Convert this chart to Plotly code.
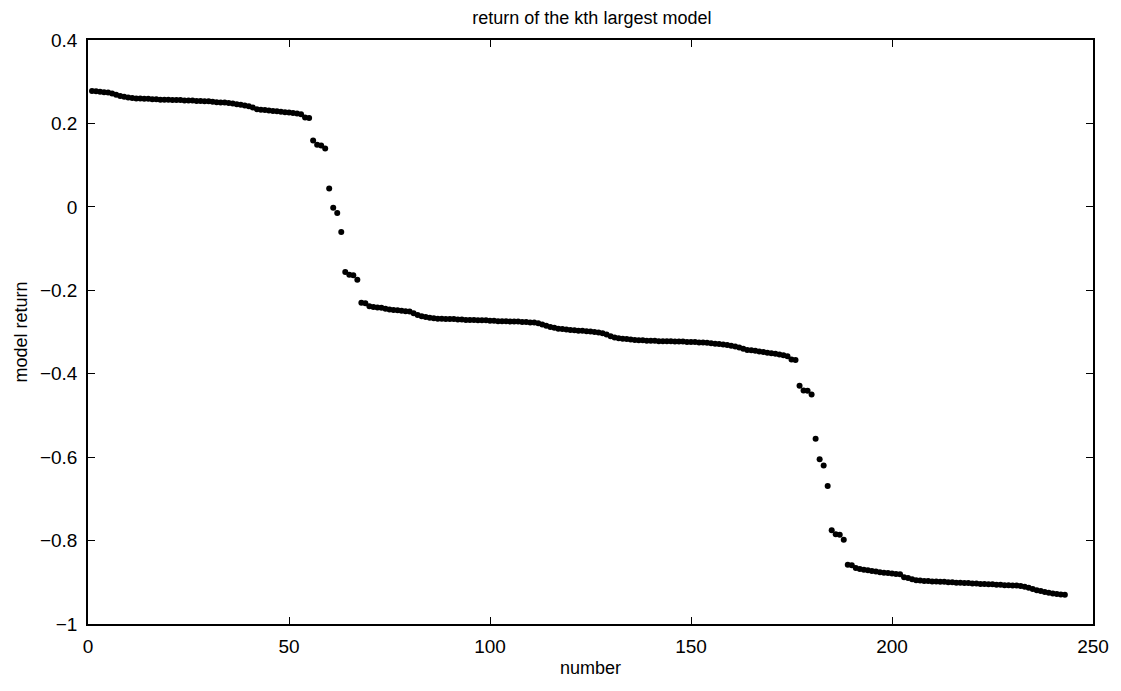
import plotly.graph_objects as go

title_text = "return of the kth largest model"
x_label = "number"
y_label = "model return"

returns_top = [
    0.278, 0.277, 0.276, 0.275, 0.274, 0.272, 0.269, 0.266, 0.264, 0.262,
    0.261, 0.260, 0.260, 0.259, 0.259, 0.258, 0.258, 0.257, 0.257, 0.257,
    0.256, 0.256, 0.256, 0.255, 0.255, 0.255, 0.254, 0.254, 0.253, 0.253,
    0.252, 0.251, 0.250, 0.250, 0.249, 0.248, 0.246, 0.245, 0.243, 0.241,
    0.238, 0.234, 0.233, 0.232, 0.231, 0.230, 0.229, 0.228, 0.227, 0.226,
    0.225, 0.224, 0.222, 0.214, 0.213,
]
returns_drop1 = [
    0.159, 0.149, 0.147, 0.140, 0.044, -0.002, -0.015, -0.060, -0.156, -0.163,
    -0.164, -0.175, -0.230, -0.231,
]
returns_mid = [
    -0.238, -0.240, -0.241, -0.242, -0.244, -0.246, -0.247, -0.248, -0.249, -0.250,
    -0.251, -0.255, -0.259, -0.262, -0.264, -0.266, -0.267, -0.268, -0.268, -0.269,
    -0.269, -0.269, -0.270, -0.270, -0.271, -0.271, -0.271, -0.272, -0.272, -0.272,
    -0.273, -0.273, -0.274, -0.274, -0.274, -0.275, -0.275, -0.275, -0.276, -0.276,
    -0.277, -0.277, -0.279, -0.282, -0.285, -0.288, -0.290, -0.292, -0.293, -0.294,
    -0.295, -0.296, -0.297, -0.297, -0.298, -0.299, -0.300, -0.301, -0.303, -0.306,
    -0.310, -0.313, -0.315, -0.316, -0.317, -0.318, -0.319, -0.320, -0.320, -0.321,
    -0.321, -0.321, -0.322, -0.322, -0.322, -0.322, -0.323, -0.323, -0.323, -0.324,
    -0.324, -0.324, -0.325, -0.325, -0.326, -0.327, -0.328, -0.329, -0.330, -0.331,
    -0.333, -0.335, -0.337, -0.340, -0.343, -0.344, -0.345, -0.347, -0.348, -0.350,
    -0.351, -0.352, -0.354, -0.356, -0.358, -0.366, -0.367,
]
returns_drop2 = [
    -0.429, -0.440, -0.441, -0.450, -0.556, -0.605, -0.620, -0.669, -0.775, -0.785,
    -0.786, -0.798, -0.858, -0.859,
]
returns_low = [
    -0.866, -0.868, -0.870, -0.871, -0.873, -0.874, -0.876, -0.877, -0.878, -0.879,
    -0.880, -0.881, -0.888, -0.890, -0.893, -0.895, -0.896, -0.897, -0.897, -0.898,
    -0.898, -0.899, -0.899, -0.900, -0.900, -0.901, -0.901, -0.902, -0.902, -0.903,
    -0.903, -0.904, -0.904, -0.905, -0.905, -0.906, -0.906, -0.907, -0.907, -0.908,
    -0.908, -0.909, -0.911, -0.913, -0.916, -0.919, -0.921, -0.923, -0.925, -0.927,
    -0.928, -0.929, -0.930,
]

returns = returns_top + returns_drop1 + returns_mid + returns_drop2 + returns_low
numbers = list(range(1, len(returns) + 1))

x_ticks = [0, 50, 100, 150, 200, 250]
y_ticks = [-1, -0.8, -0.6, -0.4, -0.2, 0, 0.2, 0.4]
y_tick_text = ["\u22121", "\u22120.8", "\u22120.6", "\u22120.4", "\u22120.2", "0", "0.2", "0.4"]

FONT = "Liberation Sans, Arial"

fig = go.Figure()
fig.add_trace(go.Scatter(
    x=numbers, y=returns, mode="markers",
    marker=dict(color="black", size=6, line=dict(width=0)),
    showlegend=False,
))

axis_common = dict(
    showgrid=False, zeroline=False, showline=True, linecolor="black",
    linewidth=1.5, mirror="ticks", ticks="inside", ticklen=7, tickwidth=1,
    tickcolor="black", tickfont=dict(family=FONT, size=19, color="black"),
)

fig.update_layout(
    width=1121, height=691,
    margin=dict(l=88, r=24, t=40, b=67),
    paper_bgcolor="white", plot_bgcolor="white",
    title=dict(text=title_text, x=0.528, xanchor="center", y=0.975, yanchor="middle",
               font=dict(family=FONT, size=18, color="black")),
    xaxis=dict(range=[0, 250], tickvals=x_ticks, ticktext=[str(v) for v in x_ticks],
               ticklabelstandoff=4,
               title=dict(text=x_label, standoff=6,
                          font=dict(family=FONT, size=18, color="black")),
               **axis_common),
    yaxis=dict(range=[-1, 0.4], tickvals=y_ticks, ticktext=y_tick_text,
               ticklabelstandoff=5,
               title=dict(text=y_label, standoff=8,
                          font=dict(family=FONT, size=18, color="black")),
               **axis_common),
)

fig.write_html("out.html")
